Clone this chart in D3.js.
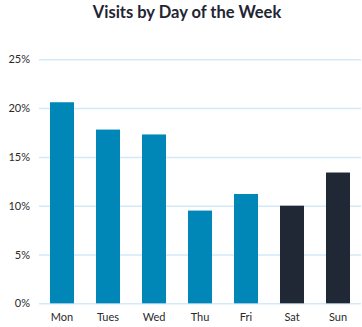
<!DOCTYPE html>
<html>
<head>
<meta charset="utf-8">
<script src="https://cdn.jsdelivr.net/npm/d3@7"></script>
<style>
  html, body { margin: 0; padding: 0; background: #fff; }
  svg { display: block; }
</style>
</head>
<body>
<svg id="chart" width="362" height="327"></svg>
<script>
// Share of visits per weekday (percent)
const days = ["Mon", "Tues", "Wed", "Thu", "Fri", "Sat", "Sun"];
const visits = [20.6, 17.8, 17.3, 9.5, 11.2, 10.0, 13.4];
const weekend = ["Sat", "Sun"];
const yTicks = [0, 5, 10, 15, 20, 25];

const svg = d3.select("#chart");
const margin = { left: 39, right: 1, top: 59.3, bottom: 23.7 };
const W = 362, H = 327;

const x = d3.scaleBand()
  .domain(days)
  .range([margin.left, W - margin.right])
  .paddingInner(0.478)
  .paddingOuter(0.239);

const y = d3.scaleLinear()
  .domain([0, 25])
  .range([H - margin.bottom, margin.top]);

// Title
svg.append("text")
  .attr("x", 187)
  .attr("y", 18)
  .attr("text-anchor", "middle")
  .attr("font-family", "Lato, 'Open Sans', sans-serif")
  .attr("font-weight", "bold")
  .attr("font-size", 16.5)
  .attr("fill", "#1f2533")
  .text("Visits by Day of the Week");

// Horizontal gridlines and y labels
const yAxis = d3.axisLeft(y)
  .tickValues(yTicks)
  .tickFormat(d => d + "%")
  .tickSize(-(W - margin.right - margin.left))
  .tickPadding(9);

const gy = svg.append("g")
  .attr("transform", `translate(${margin.left},0)`)
  .call(yAxis);
gy.select(".domain").remove();
gy.selectAll(".tick line")
  .attr("stroke", "#d3e9f8")
  .attr("stroke-width", 1.5);
gy.selectAll(".tick text")
  .attr("font-family", "Lato, 'Open Sans', sans-serif")
  .attr("font-size", 11)
  .attr("fill", "#2a2a2a");

// Bars
svg.append("g")
  .selectAll("rect")
  .data(days.map((d, i) => ({ day: d, value: visits[i] })))
  .join("rect")
  .attr("x", d => x(d.day))
  .attr("width", x.bandwidth())
  .attr("y", d => y(d.value))
  .attr("height", d => y(0) - y(d.value))
  .attr("fill", d => weekend.includes(d.day) ? "#202835" : "#0087b8");

// X axis labels
const xAxis = d3.axisBottom(x).tickSize(0).tickPadding(10);
const gx = svg.append("g")
  .attr("transform", `translate(0,${y(0)})`)
  .call(xAxis);
gx.select(".domain").remove();
gx.selectAll(".tick text")
  .attr("font-family", "Lato, 'Open Sans', sans-serif")
  .attr("font-size", 11)
  .attr("fill", "#2a2a2a");
</script>
</body>
</html>
